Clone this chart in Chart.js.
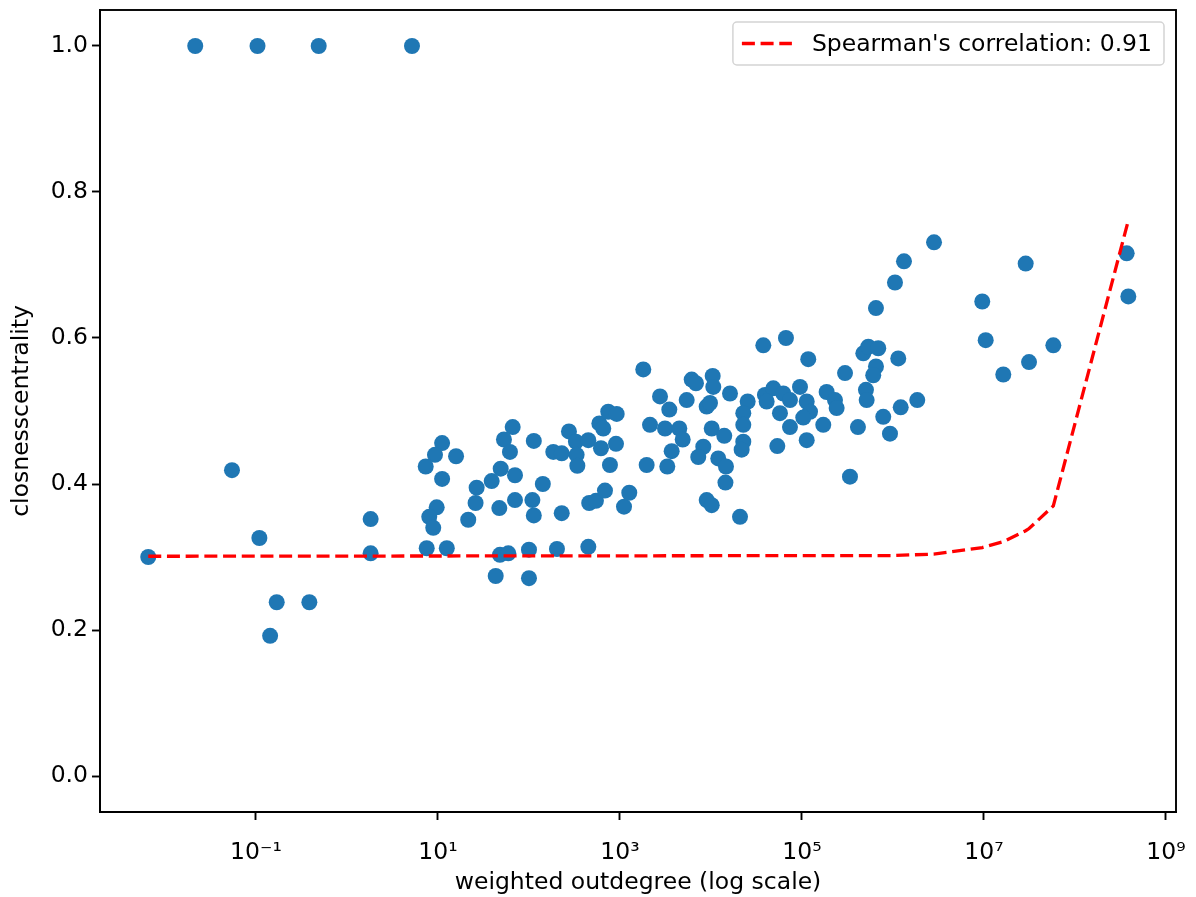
<!DOCTYPE html>
<html>
<head>
<meta charset="utf-8">
<title>closeness vs weighted outdegree</title>
<script src="https://cdn.jsdelivr.net/npm/chart.js@4.4.0/dist/chart.umd.min.js"></script>
<style>
  html, body { margin: 0; padding: 0; background: #fff; }
  #chart { display: block; }
</style>
</head>
<body>
<canvas id="chart" width="1196" height="897"></canvas>
<script>
// weighted outdegree of each node and its closeness centrality
const outdegree = [
  0.0215, 0.104, 0.489, 5.18, 0.00655, 0.0545, 0.109, 0.169, 0.386, 0.143,
  1.82, 1.82, 7.52, 12.5, 11.1, 9.27, 7.33, 11.1, 15.8, 9.68,
  8.02, 8.87, 21.5, 26.6, 25.9, 38.9, 48.9, 70.2, 47.2, 70.2,
  66.2, 53.1, 61.8, 113, 142, 109, 113, 48.0, 59.3, 100,
  43.1, 100, 203, 185, 229, 275, 229, 1803, 328, 449,
  334, 340, 593, 743, 920, 655, 618, 904, 776, 459,
  544, 684, 1107, 1265, 449, 2138, 2754, 3483, 3126, 4487,
  4888, 3698, 1964, 3311, 5408, 6138, 6839, 10440, 10600, 8970,
  9750, 10190, 8230, 7250, 12020, 8970, 10190, 14420, 37580, 66680,
  117200, 16180, 13990, 14620, 20840, 25300, 22650, 22650, 22650, 21730,
  39170, 48420, 62370, 40900, 57280, 73790, 95060, 112700, 122500, 103300,
  73790, 53580, 112700, 171400, 186600, 230500, 240400, 297200, 336800, 472100,
  412000, 2825000, 1321000, 1052000, 650100, 535800, 688700, 1143000, 650100, 606700,
  504700, 513700, 1849000, 1216000, 781600, 926800, 28710000, 9572000, 10440000, 57810000,
  31260000, 16300000, 369800000, 385500000
];
const closeness = [
  1.0, 1.0, 1.0, 1.0, 0.300, 0.419, 0.326, 0.238, 0.238, 0.192,
  0.352, 0.305, 0.312, 0.312, 0.456, 0.440, 0.424, 0.407, 0.438, 0.368,
  0.355, 0.340, 0.351, 0.395, 0.374, 0.404, 0.421, 0.412, 0.367, 0.378,
  0.478, 0.461, 0.444, 0.459, 0.400, 0.378, 0.357, 0.303, 0.305, 0.310,
  0.274, 0.271, 0.311, 0.444, 0.442, 0.472, 0.360, 0.557, 0.458, 0.460,
  0.440, 0.425, 0.483, 0.499, 0.496, 0.476, 0.449, 0.455, 0.426, 0.374,
  0.377, 0.391, 0.369, 0.388, 0.314, 0.481, 0.520, 0.502, 0.476, 0.476,
  0.461, 0.445, 0.426, 0.424, 0.515, 0.543, 0.538, 0.548, 0.533, 0.506,
  0.511, 0.476, 0.451, 0.437, 0.435, 0.378, 0.371, 0.402, 0.590, 0.600,
  0.571, 0.524, 0.466, 0.424, 0.355, 0.513, 0.497, 0.481, 0.458, 0.447,
  0.522, 0.531, 0.524, 0.513, 0.497, 0.515, 0.533, 0.513, 0.499, 0.491,
  0.478, 0.452, 0.460, 0.481, 0.526, 0.515, 0.504, 0.552, 0.410, 0.579,
  0.478, 0.731, 0.705, 0.676, 0.641, 0.588, 0.586, 0.572, 0.561, 0.549,
  0.529, 0.515, 0.515, 0.505, 0.492, 0.469, 0.702, 0.650, 0.597, 0.590,
  0.567, 0.550, 0.716, 0.657
];

// fitted trend line, vertices along the sorted outdegree values
const fitX = [0.00655, 1e6, 2.8e6, 9.6e6, 1.63e7, 2.87e7, 3.13e7, 5.78e7, 3.8e8];
const fitY = [0.301, 0.302, 0.304, 0.313, 0.321, 0.336, 0.339, 0.370, 0.758];
const fitLabel = "Spearman's correlation: 0.91";

const xTickExp = [-1, 1, 3, 5, 7, 9];
const yTicks = [0.0, 0.2, 0.4, 0.6, 0.8, 1.0];

const FONT = 'DejaVu Sans';
const FSIZE = 23.5;
const SUP = { '-': '\u207B', '0': '\u2070', '1': '\u00B9', '2': '\u00B2', '3': '\u00B3',
  '4': '\u2074', '5': '\u2075', '6': '\u2076', '7': '\u2077', '8': '\u2078', '9': '\u2079' };
const supText = (n) => String(n).split('').map(c => SUP[c]).join('');

Chart.defaults.font.family = FONT;
Chart.defaults.font.size = FSIZE;
Chart.defaults.color = '#000';

// box round the plot area (matplotlib style spines)
const frame = {
  id: 'frame',
  afterDatasetsDraw(chart) {
    const { ctx, chartArea: a } = chart;
    ctx.save();
    ctx.strokeStyle = '#000';
    ctx.lineWidth = 1.9;
    ctx.strokeRect(a.left, a.top, a.right - a.left, a.bottom - a.top);
    ctx.restore();
  }
};

// legend in the upper right corner, inside the axes
const legendBox = {
  id: 'legendBox',
  afterDraw(chart) {
    const ds = chart.data.datasets[1];
    const { ctx, chartArea: a } = chart;
    ctx.save();
    ctx.font = FSIZE + 'px "' + FONT + '"';
    const tw = ctx.measureText(ds.label).width;
    const w = 10 + 49 + 20 + tw + 12;
    const h = 43;
    const x = a.right - 12 - w;
    const y = a.top + 12;
    ctx.beginPath();
    ctx.roundRect(x, y, w, h, 4);
    ctx.fillStyle = 'rgba(255,255,255,0.8)';
    ctx.fill();
    ctx.strokeStyle = '#d4d4d4';
    ctx.lineWidth = 1.5;
    ctx.stroke();
    ctx.beginPath();
    ctx.setLineDash(ds.borderDash);
    ctx.strokeStyle = ds.borderColor;
    ctx.lineWidth = ds.borderWidth;
    ctx.moveTo(x + 9, y + h / 2);
    ctx.lineTo(x + 9 + 50, y + h / 2);
    ctx.stroke();
    ctx.setLineDash([]);
    ctx.fillStyle = '#000';
    ctx.textBaseline = 'middle';
    ctx.fillText(ds.label, x + 10 + 49 + 20, y + h / 2 + 1);
    ctx.restore();
  }
};

const ctx = document.getElementById('chart').getContext('2d');
const myChart = new Chart(ctx, {
  type: 'scatter',
  data: {
    datasets: [
      {
        label: 'nodes',
        data: outdegree.map((v, i) => ({ x: v, y: closeness[i] })),
        backgroundColor: '#1f77b4',
        borderWidth: 0,
        pointRadius: 8,
        pointHoverRadius: 8,
        order: 2
      },
      {
        label: fitLabel,
        data: fitX.map((v, i) => ({ x: v, y: fitY[i] })),
        showLine: true,
        borderColor: '#ff0000',
        borderWidth: 3.3,
        borderDash: [13, 5.7],
        pointRadius: 0,
        tension: 0,
        fill: false,
        order: 1
      }
    ]
  },
  options: {
    responsive: false,
    animation: false,
    layout: { padding: { top: 10, right: 20, left: 0, bottom: 0 } },
    plugins: {
      legend: { display: false },
      tooltip: { enabled: false }
    },
    scales: {
      x: {
        type: 'logarithmic',
        min: Math.pow(10, -2.714),
        max: Math.pow(10, 9.11),
        afterBuildTicks: (scale) => { scale.ticks = xTickExp.map(e => ({ value: Math.pow(10, e) })); },
        afterFit: (scale) => {
          scale.height = 85;
          scale.paddingLeft = 0;
          scale.paddingRight = 0;
        },
        ticks: {
          autoSkip: false,
          maxRotation: 0,
          padding: 19,
          callback: (v) => '10' + supText(Math.round(Math.log10(v)))
        },
        grid: { drawOnChartArea: false, drawTicks: true, tickLength: 8, tickWidth: 1.9, tickColor: '#000' },
        border: { display: true, color: '#000', width: 1.9 },
        title: { display: true, text: 'weighted outdegree (log scale)', padding: { top: 0, bottom: 0 } }
      },
      y: {
        type: 'linear',
        min: -0.0493,
        max: 1.0493,
        afterBuildTicks: (scale) => { scale.ticks = yTicks.map(v => ({ value: v })); },
        afterFit: (scale) => {
          scale.width = 100;
          scale.paddingTop = 0;
          scale.paddingBottom = 0;
        },
        ticks: {
          padding: 4,
          callback: (v) => v.toFixed(1)
        },
        grid: { drawOnChartArea: false, drawTicks: true, tickLength: 8, tickWidth: 1.9, tickColor: '#000' },
        border: { display: true, color: '#000', width: 1.9 },
        title: { display: true, text: 'closnesscentrality', padding: { top: 8, bottom: 0 } }
      }
    }
  },
  plugins: [frame, legendBox]
});
</script>
</body>
</html>
